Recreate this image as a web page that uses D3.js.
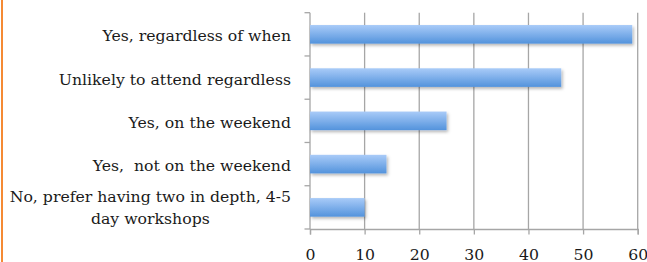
<!DOCTYPE html>
<html><head><meta charset="utf-8">
<script src="https://cdn.jsdelivr.net/npm/d3@7"></script>
<style>html,body{margin:0;padding:0;background:#fff;}svg{display:block;}text{white-space:pre;}</style>
</head><body>
<script>
const categories = ["Yes, regardless of when","Unlikely to attend regardless","Yes, on the weekend","Yes,  not on the weekend","No, prefer having two in depth, 4-5|day workshops"];
const values = [59,46,25,14,10];
const xTicks = [0,10,20,30,40,50,60];

const W=647,H=262;
const svg=d3.select("body").append("svg").attr("width",W).attr("height",H);
const defs=svg.append("defs");
const g1=defs.append("linearGradient").attr("id","bg").attr("x1",0).attr("y1",0).attr("x2",0).attr("y2",1);
g1.append("stop").attr("offset","0%").attr("stop-color","#a9cbf8");
g1.append("stop").attr("offset","100%").attr("stop-color","#5393dc");
const f=defs.append("filter").attr("id","sh").attr("x","-5%").attr("y","-20%").attr("width","115%").attr("height","160%");
f.append("feDropShadow").attr("dx",1.5).attr("dy",2).attr("stdDeviation",1.6).attr("flood-color","#000").attr("flood-opacity",0.28);

svg.append("line").attr("x1",2).attr("x2",2).attr("y1",0).attr("y2",H).attr("stroke","#f58a34").attr("stroke-width",2);

const x=d3.scaleLinear().domain([0,60]).range([310,637.7]);
const y=d3.scaleBand().domain(categories).range([12.7,229]).paddingInner(0.57).paddingOuter(0.285);
const yb=d3.scaleBand().domain(categories).range([12.7,229]);
const font="DejaVu Serif";
const fs=15.7;

svg.append("g").selectAll("line").data(xTicks.slice(1)).join("line")
 .attr("x1",d=>x(d)).attr("x2",d=>x(d)).attr("y1",12.7).attr("y2",229)
 .attr("stroke","#a6a6a6").attr("stroke-width",1.3);

const xa=svg.append("g").attr("transform","translate(0,229)")
 .call(d3.axisBottom(x).tickValues(xTicks).tickSize(5.5).tickFormat(d3.format("d")));
xa.select(".domain").attr("stroke","#a6a6a6").attr("stroke-width",1.3);
xa.selectAll(".tick line").attr("stroke","#a6a6a6").attr("stroke-width",1.3);
xa.selectAll("text").attr("y",30.5).attr("dy",0).attr("font-family",font).attr("font-size",fs).attr("fill","#1a1a1a");

svg.append("line").attr("x1",310).attr("x2",310).attr("y1",12.7).attr("y2",229).attr("stroke","#a6a6a6").attr("stroke-width",1.3);
const yt=categories.map(c=>yb(c)).concat([229]);
svg.append("g").selectAll("line").data(yt).join("line")
 .attr("x1",304.5).attr("x2",310).attr("y1",d=>d).attr("y2",d=>d).attr("stroke","#a6a6a6").attr("stroke-width",1.3);

svg.append("g").selectAll("rect").data(values).join("rect")
 .attr("x",x(0)).attr("y",(d,i)=>y(categories[i])).attr("width",d=>x(d)-x(0)).attr("height",y.bandwidth())
 .attr("fill","url(#bg)").attr("filter","url(#sh)");

const lab=svg.append("g").attr("font-family",font).attr("font-size",fs).attr("fill","#1a1a1a");
categories.forEach(c=>{
  const lines=c.split("|");
  const cy=yb(c)+yb.bandwidth()/2;
  if(lines.length===1){
    lab.append("text").attr("x",291).attr("y",cy+1.5).attr("dy","0.35em").attr("text-anchor","end").text(lines[0]);
  } else {
    const t=lab.append("text").attr("x",291).attr("y",cy-11).attr("dy","0.35em").attr("text-anchor","end").text(lines[0]);
    const w=t.node().getComputedTextLength();
    lab.append("text").attr("x",291-w/2).attr("y",cy+11).attr("dy","0.35em").attr("text-anchor","middle").text(lines[1]);
  }
});
</script>
</body></html>
